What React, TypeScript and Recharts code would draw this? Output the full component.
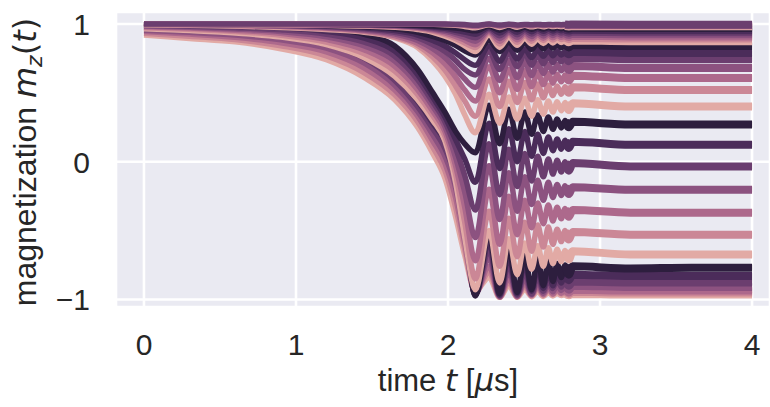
import React from "react";
import { LineChart, Line, XAxis, YAxis, CartesianGrid } from "recharts";

// sample times [µs]; from 2.18 on they sit on the oscillation extrema (chirped)
const time = [
  0, 0.3, 0.6, 0.9, 1.2, 1.45, 1.65, 1.8, 1.9, 1.98, 2.05, 2.11, 2.18, 2.27, 2.34, 2.4,
  2.455, 2.505, 2.55, 2.59, 2.627, 2.66, 2.69, 2.718, 2.745, 2.77, 2.795, 2.82, 3.2, 3.6, 4.0,
];
// from this sample on the fast wiggles are drawn as a wide band
const TAIL_START = 25;

// cubehelix-like hue levels, dark -> light
const palette = ["#2d1e3e", "#4b2c5a", "#6b3e6f", "#8c5280", "#ad698c", "#cb8796", "#e2aaa5"];

// m_z(t), group that flips almost fully (ends near -1)
const groupC = [
  [0.985, 0.98, 0.97, 0.95, 0.91, 0.82, 0.66, 0.48, 0.33, 0.2, 0.03, -0.42, -0.975, -0.52, -0.96, -0.62, -0.95, -0.67, -0.93, -0.7, -0.9, -0.72, -0.87, -0.74, -0.84, -0.75, -0.82, -0.76, -0.775, -0.77, -0.77],
  [0.975, 0.965, 0.953, 0.928, 0.88, 0.785, 0.625, 0.44, 0.28, 0.15, -0.05, -0.46, -0.97, -0.58, -0.97, -0.68, -0.96, -0.73, -0.94, -0.76, -0.92, -0.78, -0.9, -0.8, -0.88, -0.81, -0.86, -0.82, -0.83, -0.83, -0.83],
  [0.965, 0.953, 0.937, 0.907, 0.853, 0.75, 0.59, 0.4, 0.24, 0.095, -0.12, -0.5, -0.965, -0.64, -0.975, -0.74, -0.97, -0.79, -0.96, -0.82, -0.94, -0.84, -0.92, -0.85, -0.91, -0.86, -0.9, -0.87, -0.877, -0.877, -0.877],
  [0.955, 0.94, 0.92, 0.885, 0.825, 0.715, 0.555, 0.365, 0.195, 0.04, -0.19, -0.55, -0.96, -0.7, -0.98, -0.79, -0.975, -0.84, -0.965, -0.865, -0.955, -0.88, -0.945, -0.89, -0.935, -0.895, -0.93, -0.9, -0.91, -0.91, -0.91],
  [0.945, 0.927, 0.903, 0.863, 0.797, 0.68, 0.52, 0.33, 0.15, -0.01, -0.26, -0.59, -0.955, -0.76, -0.98, -0.84, -0.98, -0.875, -0.97, -0.895, -0.965, -0.91, -0.96, -0.92, -0.955, -0.925, -0.95, -0.93, -0.935, -0.935, -0.935],
  [0.932, 0.911, 0.887, 0.842, 0.768, 0.645, 0.485, 0.29, 0.105, -0.065, -0.33, -0.635, -0.95, -0.8, -0.985, -0.87, -0.98, -0.9, -0.975, -0.915, -0.97, -0.925, -0.965, -0.935, -0.96, -0.94, -0.96, -0.945, -0.95, -0.95, -0.95],
  [0.92, 0.895, 0.87, 0.82, 0.74, 0.61, 0.45, 0.25, 0.06, -0.12, -0.4, -0.68, -0.94, -0.84, -0.985, -0.9, -0.985, -0.925, -0.98, -0.94, -0.978, -0.95, -0.975, -0.955, -0.972, -0.958, -0.97, -0.96, -0.965, -0.965, -0.965],
];

// ends between +0.27 and -0.67
const groupB = [
  [1.0, 0.997, 0.993, 0.985, 0.965, 0.925, 0.84, 0.67, 0.5, 0.36, 0.22, 0.13, 0.065, 0.41, 0.13, 0.38, 0.17, 0.36, 0.2, 0.34, 0.22, 0.325, 0.235, 0.31, 0.245, 0.3, 0.25, 0.29, 0.27, 0.27, 0.27],
  [0.995, 0.99, 0.983, 0.972, 0.946, 0.897, 0.803, 0.633, 0.467, 0.325, 0.16, 0.02, -0.15, 0.28, -0.05, 0.24, 0.0, 0.22, 0.04, 0.2, 0.06, 0.18, 0.08, 0.165, 0.09, 0.155, 0.1, 0.145, 0.123, 0.123, 0.123],
  [0.99, 0.983, 0.973, 0.958, 0.926, 0.868, 0.766, 0.597, 0.433, 0.29, 0.1, -0.1, -0.35, 0.13, -0.24, 0.09, -0.18, 0.06, -0.14, 0.04, -0.11, 0.02, -0.09, 0.01, -0.075, 0.0, -0.065, -0.01, -0.034, -0.034, -0.034],
  [0.985, 0.977, 0.964, 0.945, 0.907, 0.84, 0.73, 0.56, 0.4, 0.255, 0.03, -0.22, -0.55, -0.03, -0.42, -0.08, -0.36, -0.11, -0.31, -0.135, -0.28, -0.15, -0.26, -0.165, -0.245, -0.175, -0.235, -0.185, -0.203, -0.203, -0.203],
  [0.98, 0.97, 0.954, 0.932, 0.888, 0.812, 0.693, 0.523, 0.367, 0.22, -0.03, -0.33, -0.72, -0.2, -0.6, -0.25, -0.53, -0.28, -0.48, -0.3, -0.45, -0.315, -0.43, -0.33, -0.415, -0.34, -0.4, -0.35, -0.37, -0.37, -0.37],
  [0.972, 0.961, 0.945, 0.918, 0.869, 0.783, 0.657, 0.487, 0.333, 0.185, -0.09, -0.44, -0.85, -0.36, -0.76, -0.41, -0.69, -0.44, -0.65, -0.46, -0.62, -0.475, -0.6, -0.49, -0.58, -0.5, -0.565, -0.51, -0.53, -0.53, -0.53],
  [0.965, 0.952, 0.935, 0.905, 0.85, 0.755, 0.62, 0.45, 0.3, 0.15, -0.15, -0.55, -0.93, -0.5, -0.88, -0.56, -0.82, -0.59, -0.78, -0.61, -0.76, -0.625, -0.74, -0.635, -0.725, -0.645, -0.71, -0.65, -0.674, -0.674, -0.674],
];

// ends between 0.84 and 0.40
const groupA = [
  [1.0, 1.0, 0.998, 0.995, 0.99, 0.98, 0.965, 0.94, 0.91, 0.88, 0.845, 0.805, 0.775, 0.88, 0.8, 0.87, 0.81, 0.865, 0.815, 0.86, 0.82, 0.855, 0.825, 0.852, 0.828, 0.85, 0.83, 0.848, 0.84, 0.84, 0.84],
  [1.0, 0.999, 0.996, 0.992, 0.985, 0.972, 0.952, 0.92, 0.88, 0.84, 0.79, 0.74, 0.7, 0.84, 0.73, 0.83, 0.745, 0.82, 0.755, 0.815, 0.765, 0.81, 0.77, 0.805, 0.775, 0.8, 0.78, 0.798, 0.79, 0.79, 0.79],
  [0.999, 0.998, 0.994, 0.989, 0.98, 0.965, 0.94, 0.9, 0.85, 0.8, 0.735, 0.67, 0.63, 0.8, 0.67, 0.79, 0.69, 0.78, 0.7, 0.775, 0.71, 0.77, 0.72, 0.765, 0.725, 0.76, 0.73, 0.755, 0.744, 0.744, 0.744],
  [0.999, 0.997, 0.992, 0.986, 0.975, 0.957, 0.928, 0.88, 0.82, 0.755, 0.675, 0.6, 0.54, 0.75, 0.59, 0.735, 0.61, 0.725, 0.625, 0.715, 0.64, 0.71, 0.65, 0.705, 0.66, 0.7, 0.665, 0.695, 0.68, 0.68, 0.68],
  [0.998, 0.995, 0.99, 0.983, 0.97, 0.95, 0.915, 0.86, 0.79, 0.71, 0.615, 0.52, 0.44, 0.69, 0.5, 0.67, 0.525, 0.66, 0.545, 0.65, 0.56, 0.64, 0.57, 0.635, 0.58, 0.63, 0.59, 0.625, 0.607, 0.607, 0.607],
  [0.997, 0.993, 0.988, 0.979, 0.965, 0.945, 0.905, 0.845, 0.76, 0.665, 0.55, 0.44, 0.33, 0.6, 0.4, 0.585, 0.43, 0.575, 0.45, 0.565, 0.465, 0.555, 0.48, 0.55, 0.49, 0.545, 0.5, 0.54, 0.52, 0.52, 0.52],
  [0.995, 0.99, 0.985, 0.975, 0.96, 0.94, 0.9, 0.83, 0.73, 0.62, 0.49, 0.34, 0.21, 0.49, 0.28, 0.47, 0.31, 0.46, 0.33, 0.45, 0.345, 0.44, 0.36, 0.435, 0.37, 0.43, 0.375, 0.425, 0.4, 0.4, 0.4],
];

// stays high, ends 0.97 .. 0.875
const groupD = [
  [1, 1, 1, 1, 0.999, 0.998, 0.996, 0.99, 0.985, 0.978, 0.97, 0.962, 0.95, 0.985, 0.955, 0.98, 0.96, 0.978, 0.962, 0.976, 0.964, 0.975, 0.965, 0.974, 0.966, 0.973, 0.967, 0.972, 0.97, 0.97, 0.97],
  [1, 1, 1, 0.999, 0.998, 0.996, 0.993, 0.986, 0.978, 0.968, 0.955, 0.942, 0.925, 0.975, 0.935, 0.97, 0.94, 0.967, 0.944, 0.965, 0.947, 0.963, 0.949, 0.961, 0.95, 0.96, 0.952, 0.958, 0.955, 0.955, 0.955],
  [1, 1, 0.999, 0.998, 0.997, 0.994, 0.99, 0.982, 0.97, 0.957, 0.94, 0.922, 0.9, 0.965, 0.915, 0.958, 0.922, 0.954, 0.927, 0.951, 0.93, 0.949, 0.933, 0.947, 0.935, 0.945, 0.937, 0.943, 0.94, 0.94, 0.94],
  [1, 0.999, 0.999, 0.997, 0.995, 0.992, 0.987, 0.977, 0.963, 0.946, 0.925, 0.902, 0.875, 0.955, 0.895, 0.946, 0.903, 0.941, 0.909, 0.937, 0.913, 0.935, 0.916, 0.933, 0.919, 0.931, 0.921, 0.929, 0.925, 0.925, 0.925],
  [0.999, 0.999, 0.998, 0.996, 0.994, 0.99, 0.984, 0.972, 0.956, 0.935, 0.91, 0.882, 0.85, 0.945, 0.875, 0.935, 0.885, 0.929, 0.892, 0.924, 0.897, 0.921, 0.9, 0.918, 0.903, 0.916, 0.905, 0.914, 0.91, 0.91, 0.91],
  [0.999, 0.998, 0.997, 0.995, 0.992, 0.988, 0.98, 0.967, 0.948, 0.924, 0.895, 0.862, 0.83, 0.935, 0.855, 0.922, 0.867, 0.915, 0.875, 0.91, 0.88, 0.906, 0.884, 0.903, 0.887, 0.901, 0.89, 0.899, 0.895, 0.895, 0.895],
  [0.998, 0.997, 0.996, 0.994, 0.99, 0.985, 0.976, 0.96, 0.94, 0.912, 0.88, 0.842, 0.8, 0.92, 0.83, 0.905, 0.845, 0.897, 0.853, 0.891, 0.858, 0.887, 0.862, 0.884, 0.866, 0.882, 0.868, 0.88, 0.875, 0.875, 0.875],
];

// barely moves, hugging m_z = 1
const groupE = [
  [1, 1, 1, 1, 1, 1, 1, 1, 1, 1, 0.998, 0.996, 0.99, 0.999, 0.992, 0.998, 0.993, 0.997, 0.994, 0.997, 0.994, 0.996, 0.995, 0.996, 0.995, 0.996, 0.995, 0.996, 0.995, 0.995, 0.995],
  [1, 1, 1, 1, 1, 1, 1, 1, 1, 0.998, 0.995, 0.99, 0.982, 0.998, 0.984, 0.996, 0.986, 0.995, 0.987, 0.994, 0.988, 0.993, 0.989, 0.993, 0.989, 0.992, 0.99, 0.991, 0.99, 0.99, 0.99],
  [1, 1, 1, 1, 1, 1, 1, 1, 0.998, 0.995, 0.99, 0.982, 0.972, 0.995, 0.975, 0.992, 0.977, 0.99, 0.979, 0.988, 0.98, 0.987, 0.981, 0.986, 0.982, 0.985, 0.982, 0.984, 0.983, 0.983, 0.983],
];
const groupEColors = [palette[2], palette[4], palette[6]];

const xTicks = [0, 1, 2, 3, 4];
const yTicks = [-1, 0, 1];

const FONT = "'Liberation Sans', Arial, sans-serif";
const MATH = "'DejaVu Sans', sans-serif";
const INK = "#262626";

interface Series {
  key: string;
  color: string;
  values: number[];
}

// light curves first so the dark ones sit on top
const series: Series[] = [];
const addGroup = (name: string, rows: number[][], colors: string[]) => {
  for (let i = rows.length - 1; i >= 0; i--) {
    series.push({ key: `${name}${i}`, color: colors[i], values: rows[i] });
  }
};
addGroup("C", groupC, palette);
addGroup("B", groupB, palette);
addGroup("A", groupA, palette);
addGroup("D", groupD, palette);
addGroup("E", groupE, groupEColors);

const data = time.map((t, i) => {
  const row: Record<string, number | null> = { t };
  series.forEach((s) => {
    row[s.key] = s.values[i];
    row[`${s.key}_tail`] = i >= TAIL_START ? s.values[i] : null;
  });
  return row;
});

const XTick = (props: any) => (
  <text x={props.x} y={props.y + 48} textAnchor="middle" fontSize={30} fontFamily={FONT} fill={INK}>
    {props.payload.value}
  </text>
);

const YTick = (props: any) => {
  const v = props.payload.value;
  return (
    <text x={props.x - 26} y={props.y + 11} textAnchor="end" fontSize={30} fontFamily={FONT} fill={INK}>
      {v < 0 ? `\u2212${Math.abs(v)}` : v}
    </text>
  );
};

const XLabel = () => (
  <text x={448} y={391} textAnchor="middle" fontSize={31} fontFamily={FONT} fill={INK}>
    time{" "}
    <tspan fontFamily={MATH} fontStyle="italic">
      t
    </tspan>{" "}
    [
    <tspan fontFamily={MATH} fontStyle="italic">
      μ
    </tspan>
    s]
  </text>
);

const YLabel = () => (
  <text transform="translate(36,162) rotate(-90)" textAnchor="middle" fontSize={32} fontFamily={FONT} fill={INK}>
    magnetization{" "}
    <tspan fontFamily={MATH} fontStyle="italic">
      m
    </tspan>
    <tspan fontFamily={MATH} fontStyle="italic" fontSize={22} dy={6}>
      z
    </tspan>
    <tspan fontFamily={MATH} dy={-6}>
      (
    </tspan>
    <tspan fontFamily={MATH} fontStyle="italic">
      t
    </tspan>
    <tspan fontFamily={MATH}>)</tspan>
  </text>
);

const lines: React.ReactElement[] = [];
series.forEach((s) => {
  lines.push(
    <Line
      key={s.key}
      dataKey={s.key}
      type="monotone"
      stroke={s.color}
      strokeWidth={5.5}
      strokeLinejoin="round"
      dot={false}
      activeDot={false}
      isAnimationActive={false}
    />
  );
  lines.push(
    <Line
      key={`${s.key}_tail`}
      dataKey={`${s.key}_tail`}
      type="monotone"
      stroke={s.color}
      strokeWidth={8}
      strokeLinejoin="round"
      dot={false}
      activeDot={false}
      connectNulls={false}
      isAnimationActive={false}
    />
  );
});

export default function App() {
  return (
    <div style={{ position: "absolute", left: 0, top: 0, width: 770, height: 407, background: "#fff" }}>
      <LineChart width={770} height={407} data={data} margin={{ top: 12, right: 0, bottom: 0, left: 0 }}>
        <CartesianGrid fill="#eaeaf2" fillOpacity={1} stroke="#ffffff" strokeWidth={2.6} />
        <XAxis
          dataKey="t"
          type="number"
          domain={[-0.184, 4.118]}
          ticks={xTicks}
          interval={0}
          allowDataOverflow
          axisLine={false}
          tickLine={false}
          tickSize={0}
          tickMargin={0}
          height={100}
          tick={XTick}
          label={{ content: XLabel }}
        />
        <YAxis
          type="number"
          domain={[-1.055, 1.087]}
          ticks={yTicks}
          interval={0}
          allowDataOverflow
          axisLine={false}
          tickLine={false}
          tickSize={0}
          tickMargin={0}
          width={116}
          tick={YTick}
          label={{ content: YLabel }}
        />
        {lines}
      </LineChart>
    </div>
  );
}
